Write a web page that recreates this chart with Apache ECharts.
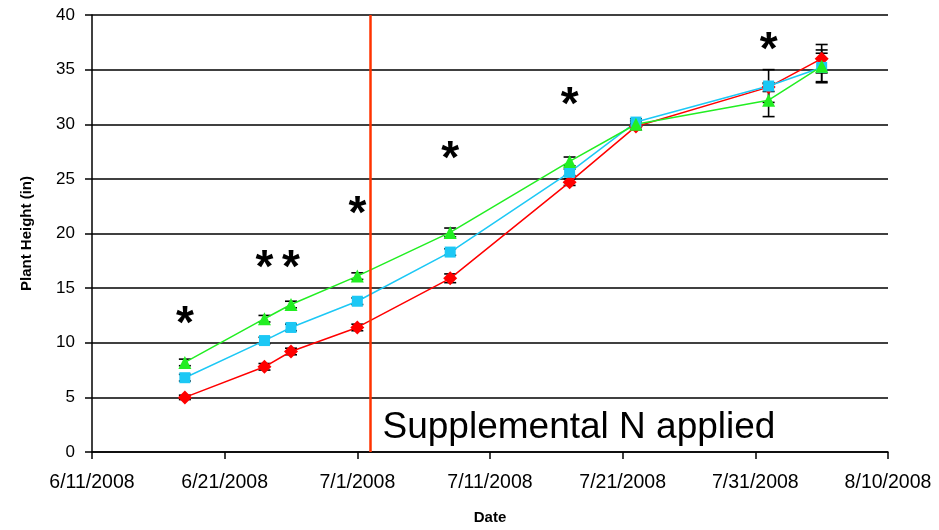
<!DOCTYPE html>
<html><head><meta charset="utf-8">
<script src="https://cdn.jsdelivr.net/npm/echarts@6/dist/echarts.min.js"></script>
<style>html,body{margin:0;padding:0;background:#fff}#c{width:939px;height:530px}</style>
</head><body><div id="c"></div>
<script>
var startDate = '2008-06-11';
var dates = ['2008-06-18','2008-06-24','2008-06-26','2008-07-01','2008-07-08','2008-07-17','2008-07-22','2008-08-01','2008-08-05'];
var redVals   = [5.0, 7.8, 9.2, 11.4, 15.9, 24.7, 29.8, 33.4, 36.0];
var redErr    = [0.2, 0.3, 0.3, 0.3, 0.4, 0.3, 0.3, 0.4, 1.3];
var blueVals  = [6.8, 10.2, 11.4, 13.8, 18.3, 25.6, 30.2, 33.5, 35.2];
var blueErr   = [0.3, 0.3, 0.3, 0.3, 0.3, 0.3, 0.3, 1.5, 1.3];
var greenVals = [8.2, 12.2, 13.5, 16.1, 20.1, 26.6, 30.0, 32.2, 35.3];
var greenErr  = [0.3, 0.3, 0.3, 0.3, 0.4, 0.4, 0.3, 1.5, 1.5];
var starDates = ['2008-06-18','2008-06-24','2008-06-26','2008-07-01','2008-07-08','2008-07-17','2008-08-01'];
var starVals  = [12.5, 17.6, 17.6, 22.6, 27.6, 32.6, 37.6];
var nDate = '2008-07-02';
var nLabel = 'Supplemental N applied';
var xTickLabels = ['6/11/2008','6/21/2008','7/1/2008','7/11/2008','7/21/2008','7/31/2008','8/10/2008'];

function dayOf(s){ return Math.round((Date.parse(s) - Date.parse(startDate)) / 86400000); }
var xs = dates.map(dayOf);

function pts(v){ return v.map(function(y,i){ return [xs[i], y]; }); }
function errData(v,e){ return v.map(function(y,i){ return [xs[i], y-e[i], y+e[i]]; }); }

function errSeries(v,e){
  return {
    type:'custom', z:3, silent:true,
    data: errData(v,e),
    renderItem: function(params, api){
      var x = api.value(0);
      var lo = api.coord([x, api.value(1)]);
      var hi = api.coord([x, api.value(2)]);
      var w = 6;
      var st = {stroke:'#000', lineWidth:1.6};
      return {type:'group', children:[
        {type:'line', shape:{x1:lo[0],y1:lo[1],x2:hi[0],y2:hi[1]}, style:st},
        {type:'line', shape:{x1:lo[0]-w,y1:lo[1],x2:lo[0]+w,y2:lo[1]}, style:st},
        {type:'line', shape:{x1:hi[0]-w,y1:hi[1],x2:hi[0]+w,y2:hi[1]}, style:st}
      ]};
    }
  };
}

function lineSeries(v, color, symbol, size){
  return {type:'line', data: pts(v), symbol: symbol, symbolSize: size, z:4,
    lineStyle:{color:color, width:1.5}, itemStyle:{color:color, opacity:1}, showSymbol:true};
}

var chart = echarts.init(document.getElementById('c'));
chart.setOption({
  animation:false,
  grid:{left:92, right:51, top:15, bottom:71},
  xAxis:{type:'value', min:0, max:60, interval:10,
    name:'Date', nameLocation:'middle', nameGap:58,
    nameTextStyle:{fontFamily:'Liberation Sans, Arial', fontWeight:'bold', fontSize:15, color:'#000'},
    axisLine:{lineStyle:{color:'#000', width:1.5}},
    axisTick:{show:true, length:7, lineStyle:{color:'#000', width:1.5}},
    axisLabel:{fontFamily:'Liberation Sans, Arial', fontSize:19.5, color:'#000', margin:21,
      formatter:function(v){ return xTickLabels[Math.round(v/10)]; }},
    splitLine:{show:false}},
  yAxis:{type:'value', min:0, max:40, interval:5,
    name:'Plant Height (in)', nameLocation:'middle', nameGap:58,
    nameTextStyle:{fontFamily:'Liberation Sans, Arial', fontWeight:'bold', fontSize:15, color:'#000'},
    axisLine:{show:true, lineStyle:{color:'#000', width:1.5}},
    axisTick:{show:true, length:7, lineStyle:{color:'#000', width:1.5}},
    axisLabel:{fontFamily:'Liberation Sans, Arial', fontSize:17, color:'#000', margin:17},
    splitLine:{show:true, lineStyle:{color:'#000', width:1.5}}},
  series:[
    errSeries(redVals, redErr),
    errSeries(blueVals, blueErr),
    errSeries(greenVals, greenErr),
    lineSeries(redVals, '#ff0000', 'diamond', 14),
    lineSeries(blueVals, '#1cc8f5', 'rect', 11),
    lineSeries(greenVals, '#22ee22', 'triangle', 13),
    {type:'scatter', symbol:'circle', symbolSize:0, z:5, silent:true,
      itemStyle:{color:'#000', opacity:1},
      data: starDates.map(function(d,i){ return [dayOf(d), starVals[i]]; }),
      label:{show:true, position:'inside', formatter:'*', fontFamily:'Liberation Sans, Arial',
        fontWeight:'bold', fontSize:46, color:'#000', opacity:1, textBorderWidth:0, offset:[0,10]}},
    {type:'line', data:[], z:2,
      markLine:{silent:true, symbol:['none','none'], label:{show:false},
        lineStyle:{color:'#ff3300', width:2.5, type:'solid'},
        data:[{xAxis: dayOf(nDate)}]}},
    {type:'scatter', symbol:'circle', symbolSize:0, z:5, silent:true,
      itemStyle:{color:'#000', opacity:1},
      data:[[dayOf(nDate)+0.9, 2.2]],
      label:{show:true, position:'right', distance:0, formatter: nLabel,
        fontFamily:'Liberation Sans, Arial', fontSize:37, color:'#000', opacity:1, textBorderWidth:0}}
  ]
});
</script></body></html>
